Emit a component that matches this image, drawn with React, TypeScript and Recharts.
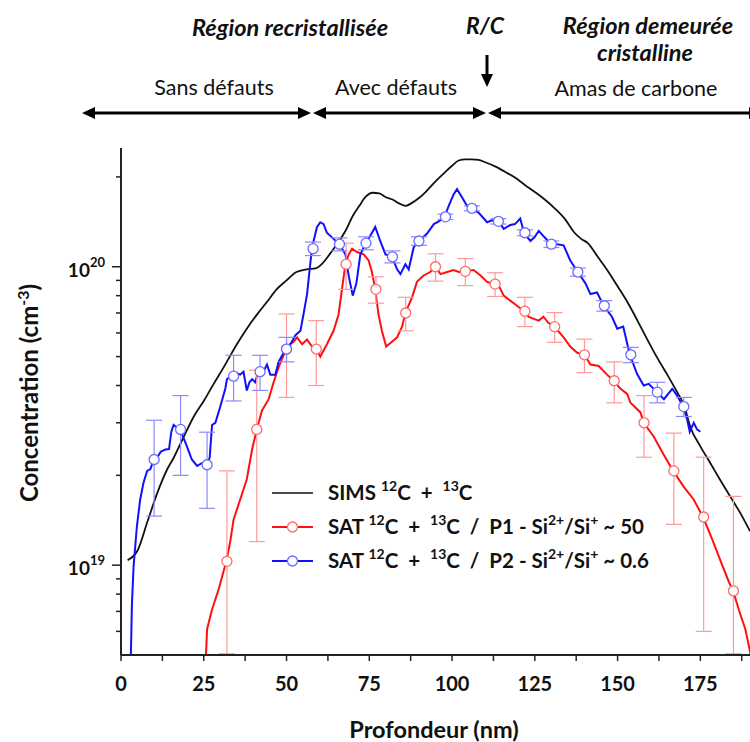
import { ComposedChart, ErrorBar, Line, Scatter, XAxis, YAxis } from "recharts";

const FONT = "Lato, 'Open Sans', sans-serif";

// depth (nm), concentration in units of 1e19 cm^-3
const simsProfile: [number, number][] = [
  [2, 1.04], [5, 1.12], [8, 1.4], [11, 1.75], [14, 2.1], [16, 2.3], [19, 2.7],
  [22, 3.15], [25, 3.55], [28, 4.05], [31, 4.6], [35, 5.5], [38, 6.2], [41, 6.9],
  [44, 7.6], [47, 8.4], [50, 9.0], [53, 9.6], [56, 9.8], [59, 9.9], [61, 10.3],
  [63, 11], [65, 11.8], [68, 13.3], [70, 14.8], [72, 16], [74, 17.2], [76, 17.7],
  [78, 17.6], [80, 17.1], [82, 16.8], [84, 16.3], [86, 16], [88, 16.4], [90, 17],
  [92, 17.8], [94, 18.8], [96, 19.8], [98, 20.8], [100, 21.8], [102, 22.7],
  [104, 22.9], [106, 22.9], [108, 22.8], [110, 22.4], [113, 21.7], [116, 20.8],
  [119, 19.9], [122, 18.8], [125, 17.8], [128, 16.8], [131, 15.7], [134, 14.5],
  [137, 13], [139, 12.4], [141, 12], [144, 10.8], [147, 9.7], [150, 8.6],
  [153, 7.6], [156, 6.6], [159, 5.7], [162, 4.95], [165, 4.35], [168, 3.8],
  [170, 3.45], [172, 2.9], [175, 2.5], [178, 2.2], [181, 1.93], [184, 1.7],
  [187, 1.5], [190, 1.3],
];

const p1Profile: [number, number][] = [
  [25.5, 0.45], [26, 0.61], [27.5, 0.71], [29.5, 0.83], [31.8, 1.03], [33, 1.2],
  [34, 1.42], [36, 1.66], [38, 1.94], [39.6, 2.44], [41, 2.85], [42.6, 3.3],
  [44.6, 3.6], [46.1, 4.1], [47.6, 4.6], [48.6, 4.9], [49.9, 5.3], [51, 5.5],
  [52.1, 5.6], [53.2, 5.8], [54.7, 5.5], [56.2, 5.7], [57.7, 5.4], [58.9, 5.3],
  [60.2, 5.0], [62.2, 5.5], [64.2, 6.1], [65.7, 6.9], [66.8, 8.5], [67.8, 10.2],
  [68.8, 11.0], [69.8, 11.5], [71.3, 11.2], [73.3, 11.0], [74.8, 10.5], [75.8, 9.6],
  [76.8, 8.4], [77.8, 6.9], [78.8, 6.1], [80.1, 5.4], [81.4, 5.55], [83.4, 5.8],
  [84.9, 6.3], [85.9, 7.0], [87.9, 7.9], [89.4, 8.9], [91.4, 9.35], [93.4, 9.6],
  [95, 10.0], [96.5, 9.45], [98.5, 9.6], [100.5, 9.75], [102, 9.6], [103.7, 9.65],
  [106.5, 9.75], [108.6, 9.35], [110.6, 8.9], [112.6, 8.75], [114, 8.7], [115.6, 8.0],
  [117.6, 7.7], [119.6, 7.4], [121.8, 7.1], [123.1, 6.8], [124.5, 6.7], [126.2, 6.6],
  [127.6, 6.8], [129, 6.5], [130.9, 6.3], [133.7, 5.8], [135.7, 5.4], [137.8, 5.15],
  [140, 5.07], [141.8, 4.7], [144.3, 4.65], [146.8, 4.35], [148.8, 4.15], [150.9, 3.9],
  [152.9, 3.75], [153.9, 3.5], [156.9, 3.25], [157.9, 3.0], [160.9, 2.7], [163.9, 2.35],
  [166.8, 2.07], [170, 1.83], [173, 1.66], [175.8, 1.45], [178.6, 1.22], [181.6, 1.0],
  [183.6, 0.88], [184.9, 0.82], [186.6, 0.71], [188.6, 0.61], [189.6, 0.54], [190.5, 0.48],
];

const p2Profile: [number, number][] = [
  [2.8, 0.4], [3.3, 0.74], [3.8, 0.99], [4.8, 1.35], [5.8, 1.66], [6.8, 1.89],
  [7.9, 2.07], [8.9, 2.1], [9.9, 2.27], [11, 2.3], [12, 2.4], [13.4, 2.44],
  [14.5, 2.45], [15.2, 2.8], [15.9, 2.95], [16.8, 2.9], [17.9, 2.85], [19, 2.65],
  [19.9, 2.5], [21.4, 2.26], [23, 2.15], [24.5, 2.2], [26, 2.17], [26.8, 2.3],
  [27.5, 2.95], [28.5, 3.0], [30, 3.4], [31.5, 3.9], [32, 4.2], [33, 4.3], [34, 4.3],
  [35, 4.4], [36, 4.35], [37, 4.45], [38, 3.85], [38.8, 4.1], [39.6, 4.2], [40.6, 4.1],
  [41.3, 4.4], [42.1, 4.5], [43, 4.45], [44.1, 4.7], [45.1, 4.35], [46.6, 4.35],
  [47.6, 4.8], [48.5, 5.0], [49.8, 5.3], [50.6, 5.35], [52.7, 5.9], [54.2, 6.1],
  [55.2, 7.0], [56.2, 8.1], [57.7, 11.6], [59.2, 13.6], [60.2, 14.1], [61.2, 13.9],
  [62.2, 13.0], [64.2, 12.4], [66, 11.9], [67.8, 11.0], [68.8, 9.3], [70, 8.0],
  [71.1, 8.8], [72.3, 11.0], [73.8, 11.9], [75.3, 12.7], [76.8, 13.6], [78.3, 12.2],
  [79.9, 11.0], [81.9, 10.8], [83.4, 9.8], [84.4, 9.45], [85.9, 10.2], [86.9, 9.8],
  [88.4, 11.6], [89.9, 12.2], [92.4, 12.9], [94.5, 13.9], [96, 14.2], [97.7, 14.7],
  [99, 16.0], [100.5, 17.5], [101.5, 18.2], [103, 17.1], [104.5, 16.0], [106, 15.6],
  [108, 15.2], [110.6, 14.1], [112, 14.3], [114.1, 14.2], [115.6, 13.4], [117.6, 13.8],
  [119, 13.9], [120.6, 14.5], [121.8, 12.9], [123.7, 12.2], [125, 12.6], [126.2, 13.2],
  [127.8, 12.6], [129.9, 11.9], [131.7, 11.9], [133.7, 11.8], [135.7, 10.5], [138, 9.6],
  [140.3, 8.8], [141.8, 8.1], [143.8, 8.2], [145.8, 7.4], [148.3, 6.8], [149.9, 6.2],
  [151.7, 6.3], [153.7, 5.07], [155.9, 4.37], [157.9, 4.0], [159.4, 4.05], [161.9, 3.8],
  [164, 3.6], [166.5, 3.9], [168, 3.7], [169.8, 3.4], [171, 3.08], [171.8, 2.8],
  [173, 3.0], [174, 2.85], [175, 2.8],
];

// sampled points with error bars (same units)
const p1MarkDepth = [32, 41, 50, 59, 68, 77, 86, 95, 104, 113, 122, 131, 140, 149, 158, 167, 176, 185];
const p1MarkConc = [1.03, 2.85, 5.3, 5.3, 10.2, 8.4, 7.0, 10.0, 9.65, 8.75, 7.1, 6.3, 5.07, 4.15, 3.0, 2.07, 1.45, 0.82];
const p1MarkErr = [1.04, 1.65, 1.65, 1.3, 1.8, 0.85, 0.9, 1.05, 1.0, 0.8, 0.8, 0.72, 0.65, 0.65, 0.7, 0.7, 0.85, 0.88];

const p2MarkDepth = [10, 18, 26, 34, 42, 50, 58, 66, 74, 82, 90, 98, 106, 114, 122, 130, 138, 146, 154, 162, 170];
const p2MarkConc = [2.26, 2.85, 2.17, 4.3, 4.45, 5.3, 11.5, 11.9, 12.0, 10.8, 12.2, 14.7, 15.7, 14.2, 13.0, 11.9, 9.6, 7.4, 5.07, 3.8, 3.4];
const p2MarkErr = [0.8, 0.85, 0.62, 0.75, 0.6, 0.5, 0.6, 0.6, 0.6, 0.5, 0.4, 0.3, 0.3, 0.3, 0.3, 0.3, 0.3, 0.3, 0.3, 0.3, 0.25];

const xMajorTicks = [0, 25, 50, 75, 100, 125, 150, 175];
const xMinorTicks = [12.5, 37.5, 62.5, 87.5, 112.5, 137.5, 162.5, 187.5];
const yMajorTicks = [1e19, 1e20];
const yMinorTicks = [6e18, 7e18, 8e18, 9e18, 2e19, 3e19, 4e19, 5e19, 6e19, 7e19, 8e19, 9e19, 2e20];

const W = 750;
const H = 742;
const PLOT_LEFT = 121;
const PLOT_TOP = 148;
const PLOT_BOTTOM = 655;
const X_MAX = 190;
const Y_MIN = 5e18;
const Y_MAX = 2.5e20;

const toRows = (pts: [number, number][]) => pts.map(([x, c]) => ({ x, v: c * 1e19 }));
// lower error is cut at the bottom of the axis (log scale, bars run off the plot)
const markRows = (xs: number[], cs: number[], es: number[]) =>
  xs.map((x, i) => {
    const v = cs[i] * 1e19;
    const e = es[i] * 1e19;
    return { x, v, err: [Math.min(e, v - Y_MIN * 1.01), e] };
  });

const simsRows = toRows(simsProfile);
const p1Rows = toRows(p1Profile);
const p2Rows = toRows(p2Profile);
const p1Marks = markRows(p1MarkDepth, p1MarkConc, p1MarkErr);
const p2Marks = markRows(p2MarkDepth, p2MarkConc, p2MarkErr);

const XTick = (props: any) => {
  const { x, y, payload } = props;
  const major = xMajorTicks.includes(payload.value);
  return (
    <g>
      <line x1={x} x2={x} y1={y} y2={y + 6} stroke="#222" strokeWidth={1.5} />
      {major && (
        <text x={x} y={y + 36} textAnchor="middle" fontFamily={FONT} fontWeight={700} fontSize={20} fill="#111">
          {payload.value}
        </text>
      )}
    </g>
  );
};

const YTick = (props: any) => {
  const { x, y, payload } = props;
  const major = yMajorTicks.includes(payload.value);
  const exp = Math.round(Math.log10(payload.value));
  return (
    <g>
      <line x1={x - (major ? 9 : 5)} x2={x} y1={y} y2={y} stroke="#222" strokeWidth={1.5} />
      {major && (
        <text x={x - 16} y={y + 10} textAnchor="end" fontFamily={FONT} fontWeight={700} fontSize={19} fill="#111">
          10
          <tspan dy={-10} fontSize={13}>{exp}</tspan>
        </text>
      )}
    </g>
  );
};

const Ring = (color: string) => (props: any) =>
  <circle cx={props.cx} cy={props.cy} r={5} fill="#fff" stroke={color} strokeWidth={1.3} />;

const legendItems = [
  { color: "#111", marker: null, tail: "", ratio: "" },
  { color: "#ff1010", marker: "#ff6a6a", tail: "P1 - Si", ratio: "~ 50" },
  { color: "#1010ff", marker: "#6a6aff", tail: "P2 - Si", ratio: "~ 0.6" },
];

const Arrow = ({ x1, x2, y }: { x1: number; x2: number; y: number }) => (
  <g>
    <line x1={x1 + 8} x2={x2 - 8} y1={y} y2={y} stroke="#000" strokeWidth={3} />
    <polygon points={`${x1},${y} ${x1 + 13},${y - 6} ${x1 + 13},${y + 6}`} fill="#000" />
    <polygon points={`${x2},${y} ${x2 - 13},${y - 6} ${x2 - 13},${y + 6}`} fill="#000" />
  </g>
);

const Overlay = () => {
  const ry = [493, 527, 561];
  const boldText = { fontFamily: FONT, fontWeight: 700, fill: "#111" } as const;
  const LF = 20.5;
  const SF = 14;
  return (
    <svg width={W} height={H} style={{ position: "absolute", left: 0, top: 0, pointerEvents: "none" }}>
      {/* region annotations */}
      <g fontFamily={FONT} fill="#111">
        <text x={290} y={36} textAnchor="middle" fontSize={23.5} fontWeight={700} fontStyle="italic">Région recristallisée</text>
        <text x={485} y={34} textAnchor="middle" fontSize={23} fontWeight={700} fontStyle="italic">R/C</text>
        <text x={648} y={34} textAnchor="middle" fontSize={23.5} fontWeight={700} fontStyle="italic">Région demeurée</text>
        <text x={645} y={61} textAnchor="middle" fontSize={23.5} fontWeight={700} fontStyle="italic">cristalline</text>
        <text x={214} y={95} textAnchor="middle" fontSize={21.5}>Sans défauts</text>
        <text x={396} y={95} textAnchor="middle" fontSize={21.5}>Avec défauts</text>
        <text x={636} y={96} textAnchor="middle" fontSize={21.5}>Amas de carbone</text>
      </g>
      <line x1={487} x2={487} y1={55} y2={75} stroke="#000" strokeWidth={3} />
      <polygon points="487,87 481,74 493,74" fill="#000" />
      <Arrow x1={82} x2={311} y={113} />
      <Arrow x1={313} x2={486} y={113} />
      <Arrow x1={488} x2={762} y={113} />

      {/* legend */}
      {legendItems.map((it, i) => (
        <g key={i}>
          <line x1={272} x2={313} y1={ry[i]} y2={ry[i]} stroke={it.color} strokeWidth={i === 0 ? 1.5 : 2} />
          {it.marker && <circle cx={292.5} cy={ry[i]} r={5} fill="#fff" stroke={it.marker} strokeWidth={1.3} />}
          <text x={328} y={ry[i] + 7} fontSize={LF} {...boldText} style={{ whiteSpace: "pre" }}>
            {i === 0 ? "SIMS " : "SAT "}
            <tspan dy={-9} fontSize={SF}>12</tspan>
            <tspan dy={9}>C  +  </tspan>
            <tspan dy={-9} fontSize={SF}>13</tspan>
            <tspan dy={9}>C</tspan>
            {i > 0 && (
              <>
                <tspan>{"  /  " + it.tail}</tspan>
                <tspan dy={-9} fontSize={SF}>2+</tspan>
                <tspan dy={9}>/Si</tspan>
                <tspan dy={-9} fontSize={SF}>+</tspan>
                <tspan dy={9}>{" " + it.ratio}</tspan>
              </>
            )}
          </text>
        </g>
      ))}

      {/* axis titles */}
      <text x={434} y={738} textAnchor="middle" fontSize={23.5} {...boldText}>Profondeur (nm)</text>
      <text transform="translate(38 393) rotate(-90)" textAnchor="middle" fontSize={24} {...boldText}>
        Concentration (cm
        <tspan dy={-9} fontSize={16}>-3</tspan>
        <tspan dy={9}>)</tspan>
      </text>
    </svg>
  );
};

export default function App() {
  return (
    <div style={{ position: "absolute", left: 0, top: 0, width: W, height: H, background: "#fff" }}>
      <ComposedChart
        width={W}
        height={H}
        margin={{ top: PLOT_TOP, right: 0, bottom: H - PLOT_BOTTOM - 30, left: PLOT_LEFT - 60 }}
      >
        <XAxis
          type="number"
          dataKey="x"
          domain={[0, X_MAX]}
          ticks={[...xMajorTicks, ...xMinorTicks].sort((a, b) => a - b)}
          interval={0}
          allowDataOverflow
          height={30}
          tickSize={0}
          tickMargin={0}
          tickLine={false}
          tick={<XTick />}
          axisLine={{ stroke: "#222", strokeWidth: 2 }}
        />
        <YAxis
          type="number"
          scale="log"
          domain={[Y_MIN, Y_MAX]}
          ticks={[...yMinorTicks, ...yMajorTicks].sort((a, b) => a - b)}
          interval={0}
          allowDataOverflow
          width={60}
          tickSize={0}
          tickMargin={0}
          tickLine={false}
          tick={<YTick />}
          axisLine={{ stroke: "#222", strokeWidth: 2 }}
        />
        <Line data={simsRows} dataKey="v" type="monotone" stroke="#111" strokeWidth={1.8} dot={false} isAnimationActive={false} />
        <Line data={p1Rows} dataKey="v" type="linear" stroke="#ff1010" strokeWidth={2} dot={false} isAnimationActive={false} />
        <Line data={p2Rows} dataKey="v" type="linear" stroke="#1010ff" strokeWidth={2} dot={false} isAnimationActive={false} />
        <Scatter data={p1Marks} dataKey="v" shape={Ring("#ff6a6a")} isAnimationActive={false}>
          <ErrorBar dataKey="err" direction="y" width={8} stroke="#ff9a9a" strokeWidth={1.2} />
        </Scatter>
        <Scatter data={p2Marks} dataKey="v" shape={Ring("#6a6aff")} isAnimationActive={false}>
          <ErrorBar dataKey="err" direction="y" width={8} stroke="#8a8aff" strokeWidth={1.2} />
        </Scatter>
      </ComposedChart>
      <Overlay />
    </div>
  );
}
